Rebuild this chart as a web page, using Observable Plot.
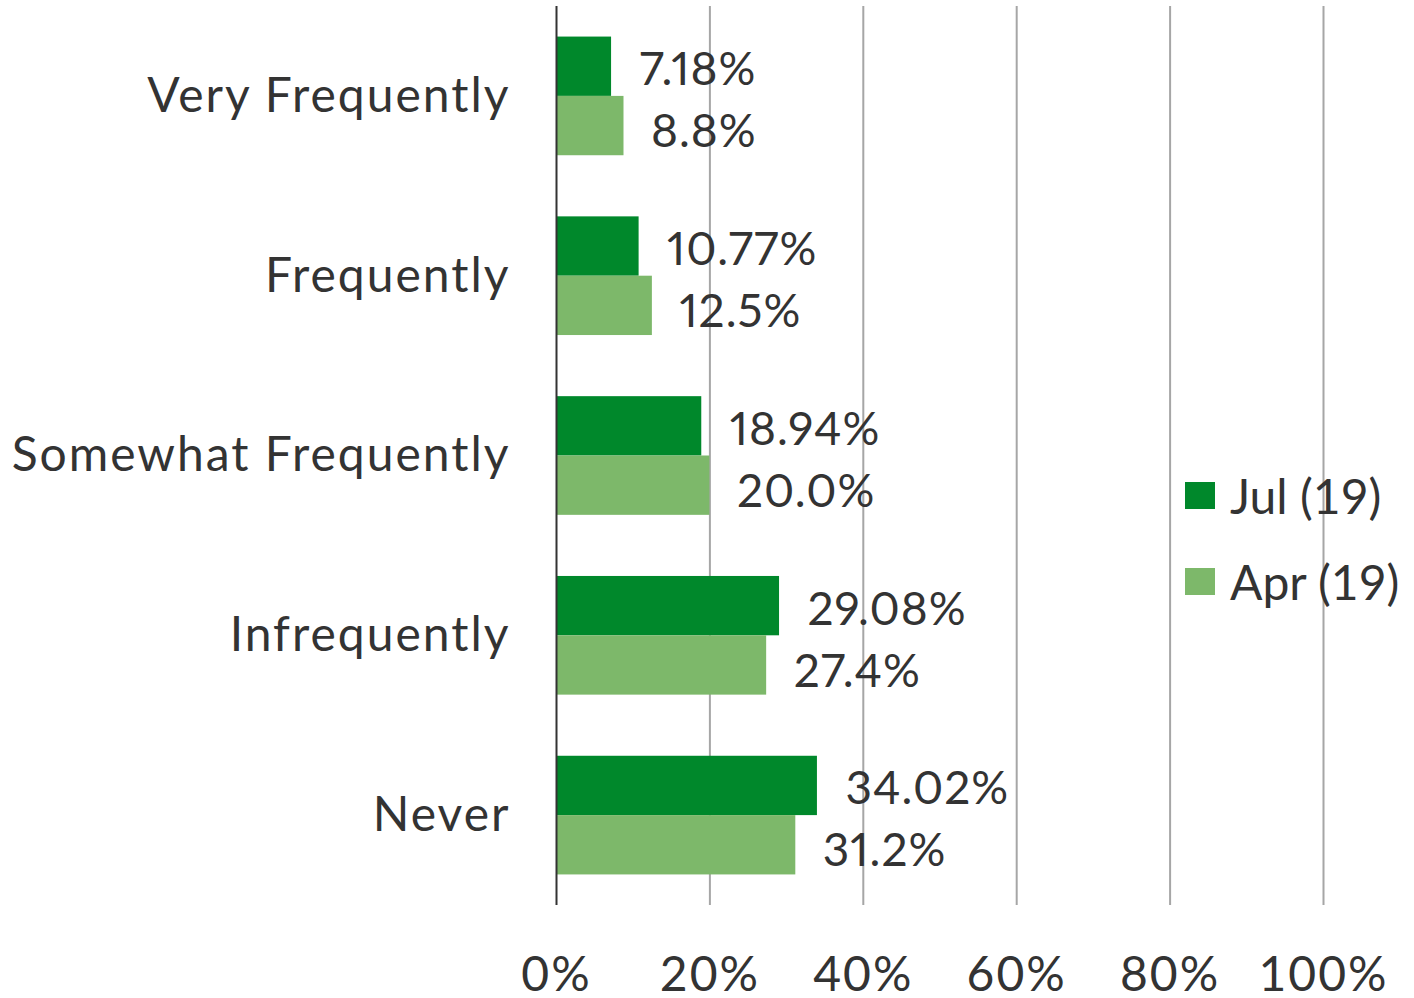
<!DOCTYPE html>
<html>
<head>
<meta charset="utf-8">
<script src="https://cdn.jsdelivr.net/npm/d3@7"></script>
<script src="https://cdn.jsdelivr.net/npm/@observablehq/plot@0.6"></script>
<style>
  html, body { margin: 0; padding: 0; background: #fff; }
  #wrap { position: relative; width: 1414px; height: 998px; font-family: Lato, sans-serif; }
  #wrap svg text { letter-spacing: 2px; }
  #wrap svg g.values text { letter-spacing: 1px; }
  #legend { position: absolute; left: 1185px; top: 452px; color: #333; font-size: 48px; letter-spacing: 0px; }
  .item { display: flex; align-items: center; height: 86px; }
  .sw { width: 30px; height: 27px; margin-right: 15px; }
</style>
</head>
<body>
<div id="wrap"></div>
<script>
const categories = ["Very Frequently", "Frequently", "Somewhat Frequently", "Infrequently", "Never"];
const seriesNames = ["Jul (19)", "Apr (19)"];
const julValues = [7.18, 10.77, 18.94, 29.08, 34.02];
const aprValues = [8.8, 12.5, 20.0, 27.4, 31.2];
const julLabels = ["7.18%", "10.77%", "18.94%", "29.08%", "34.02%"];
const aprLabels = ["8.8%", "12.5%", "20.0%", "27.4%", "31.2%"];
const xTicks = [0, 20, 40, 60, 80, 100];
const colors = ["#00882b", "#7db86a"];

const jul = categories.map((c, i) => ({category: c, value: julValues[i], label: julLabels[i]}));
const apr = categories.map((c, i) => ({category: c, value: aprValues[i], label: aprLabels[i]}));

const W = 1414, H = 998, mt = 6, mb = 93;
const step = (H - mt - mb) / categories.length;
const bw = step * 0.66;
const half = bw / 2;

const chart = Plot.plot({
  width: W,
  height: H,
  marginLeft: 556,
  marginRight: 91,
  marginTop: mt,
  marginBottom: mb,
  style: {fontFamily: "Lato, sans-serif", fontSize: "48px", color: "#333", background: "#fff", overflow: "visible"},
  x: {domain: [0, 100], label: null},
  y: {domain: categories, paddingInner: 0.34, paddingOuter: 0.17, label: null, round: false},
  marks: [
    Plot.ruleX(xTicks.slice(1), {stroke: "#a6a6a6", strokeWidth: 2}),
    Plot.barX(jul, {x: "value", y: "category", fill: colors[0], insetBottom: half}),
    Plot.barX(apr, {x: "value", y: "category", fill: colors[1], insetTop: half}),
    Plot.ruleX([0], {stroke: "#333", strokeWidth: 2}),
    Plot.text(jul, {x: "value", y: "category", text: "label", textAnchor: "start", dx: 28, dy: -26, fill: "#333", fontSize: 46, fontVariant: "proportional-nums", className: "values"}),
    Plot.text(apr, {x: "value", y: "category", text: "label", textAnchor: "start", dx: 27, dy: 36, fill: "#333", fontSize: 46, fontVariant: "proportional-nums", className: "values"}),
    Plot.axisX({ticks: xTicks, tickFormat: d => d + "%", tickSize: 0, tickPadding: 51, fontSize: 48, fill: "#333", label: null}),
    Plot.axisY({tickSize: 0, tickPadding: 46, fontSize: 48, fill: "#333", label: null})
  ]
});

const wrap = document.getElementById("wrap");
wrap.appendChild(chart);

const legend = document.createElement("div");
legend.id = "legend";
seriesNames.forEach((name, i) => {
  const item = document.createElement("div");
  item.className = "item";
  const sw = document.createElement("div");
  sw.className = "sw";
  sw.style.background = colors[i];
  const t = document.createElement("span");
  t.textContent = name;
  item.appendChild(sw);
  item.appendChild(t);
  legend.appendChild(item);
});
wrap.appendChild(legend);
</script>
</body>
</html>
